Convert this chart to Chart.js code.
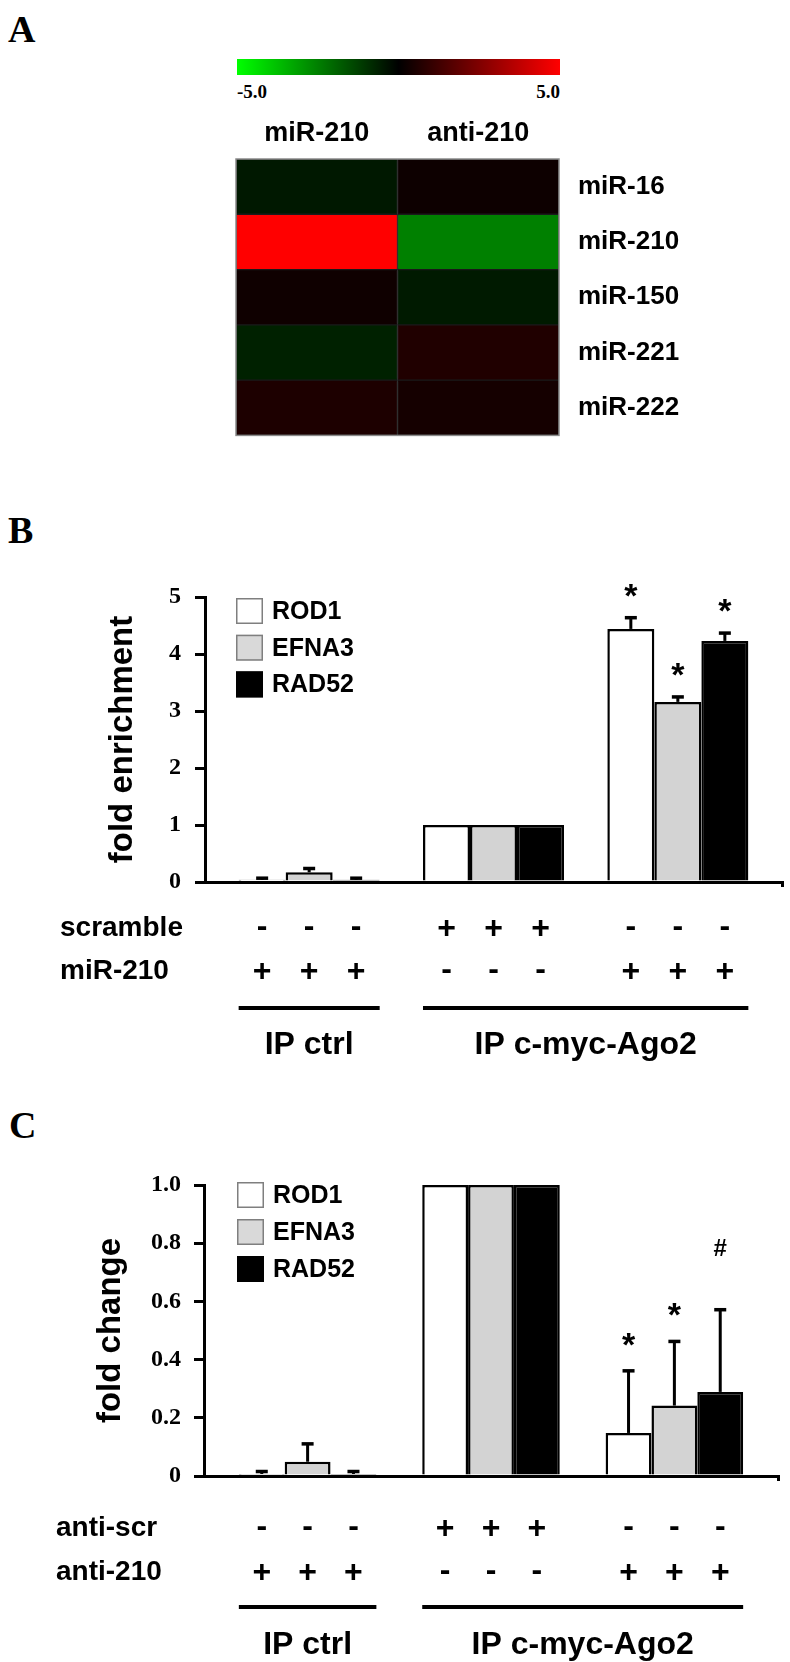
<!DOCTYPE html>
<html><head><meta charset="utf-8">
<script src="https://cdn.jsdelivr.net/npm/chart.js@4.4.0/dist/chart.umd.min.js"></script>
<style>
html,body{margin:0;padding:0;background:#fff;}
body{width:790px;height:1662px;position:relative;overflow:hidden;}
canvas{position:absolute;left:0;}
.lbl{position:absolute;font-family:"Liberation Serif","Times New Roman",serif;font-weight:bold;color:#000;line-height:1;white-space:nowrap;}
</style></head><body>
<div class="lbl" style="left:8px;top:10px;font-size:38px;">A</div>
<div class="lbl" style="left:8px;top:511px;font-size:38px;">B</div>
<div class="lbl" style="left:9px;top:1106px;font-size:38px;">C</div>
<div style="position:absolute;left:237px;top:59px;width:323px;height:16px;background:linear-gradient(to right,#00ff00,#000000 50%,#ff0000);"></div>
<div class="lbl" style="left:237px;top:82px;font-size:19px;">-5.0</div>
<div class="lbl" style="right:230px;top:82px;font-size:19px;">5.0</div>
<canvas id="cA" width="790" height="470" style="top:0"></canvas>
<canvas id="cB" width="790" height="600" style="top:480px"></canvas>
<canvas id="cC" width="790" height="582" style="top:1080px"></canvas>
<script>
// ---------- data ----------
const heatCols = ['miR-210', 'anti-210'];
const heatRows = ['miR-16', 'miR-210', 'miR-150', 'miR-221', 'miR-222'];
const heatMiR210 = [-0.47, 5.0, 0.3, -0.65, 0.57];
const heatAnti210 = [0.25, -2.5, -0.5, 0.62, 0.42];

const genes = ['ROD1', 'EFNA3', 'RAD52'];
const groupNames = ['IP ctrl', 'IP c-myc-Ago2'];

// panel B: fold enrichment
const rod1B = [0.04, 1.0, 4.44];
const efna3B = [0.17, 1.0, 3.16];
const rad52B = [0.04, 1.0, 4.23];
const rod1BErr = [0.04, 0, 0.21];
const efna3BErr = [0.08, 0, 0.10];
const rad52BErr = [0.04, 0, 0.15];
const bSigText = ['*', '*', '*'];
const bSigY = [5.16, 3.77, 4.89];
const bTicks = ['0', '1', '2', '3', '4', '5'];
const scrambleSigns = ['-', '+', '-'];
const mir210Signs = ['+', '-', '+'];

// panel C: fold change
const rod1C = [0.007, 1.0, 0.148];
const efna3C = [0.049, 1.0, 0.242];
const rad52C = [0.007, 1.0, 0.289];
const rod1CErr = [0.011, 0, 0.216];
const efna3CErr = [0.064, 0, 0.223];
const rad52CErr = [0.011, 0, 0.285];
const cSigText = ['*', '*', '#'];
const cSigY = [0.479, 0.581, 0.785];
const cTicks = ['0', '0.2', '0.4', '0.6', '0.8', '1.0'];
const antiScrSigns = ['-', '+', '-'];
const anti210Signs = ['+', '-', '+'];

// ---------- styles ----------
const SANS = '"Liberation Sans", Arial, sans-serif';
const SERIF = '"Liberation Serif", "Times New Roman", serif';
Chart.defaults.font.family = SANS;
Chart.defaults.color = '#000';
const barFills = ['#ffffff', '#d3d3d3', '#000000'];
const legFills = ['#ffffff', '#d9d9d9', '#000000'];
const legBorders = ['#7f7f7f', '#7f7f7f', '#000000'];

function heatColor(v) {
  const t = Math.min(1, Math.abs(v) / 5);
  const c = Math.round(t * 255);
  return v >= 0 ? `rgb(${c},0,0)` : `rgb(0,${c},0)`;
}

const outline = {
  id: 'outline',
  afterDatasetsDraw(chart) {
    const {ctx, chartArea: a} = chart;
    ctx.save();
    ctx.strokeStyle = '#8a8a8a';
    ctx.lineWidth = 1.5;
    ctx.strokeRect(a.left, a.top, a.right - a.left, a.bottom - a.top);
    ctx.restore();
  }
};

new Chart(document.getElementById('cA'), {
  type: 'bar',
  data: {
    labels: heatRows,
    datasets: [heatMiR210, heatAnti210].map((vals, j) => ({
      label: heatCols[j],
      data: heatRows.map(r => ({y: r, x: [j, j + 1]})),
      backgroundColor: vals.map(heatColor),
      borderColor: '#1a1a1a', borderWidth: 1, borderSkipped: false,
      grouped: false, categoryPercentage: 1, barPercentage: 1
    }))
  },
  options: {
    indexAxis: 'y', responsive: false, animation: false, devicePixelRatio: 1,
    layout: {padding: {left: 236, top: 99, right: 0, bottom: 17}},
    plugins: {legend: {display: false}, tooltip: {enabled: false}},
    scales: {
      x: {type: 'linear', min: 0, max: 2, display: false, offset: false},
      xTop: {type: 'category', labels: heatCols, position: 'top', offset: true,
        grid: {display: false, drawTicks: false}, border: {display: false},
        ticks: {padding: 9, font: {size: 27, weight: 'bold'}, color: '#000'},
        afterFit(s) { s.height = 60; }},
      y: {type: 'category', position: 'right', offset: true,
        grid: {display: false, drawTicks: false}, border: {display: false},
        ticks: {padding: 19, font: {size: 26, weight: 'bold'}, color: '#000'},
        afterFit(s) { s.width = 231; }}
    }
  },
  plugins: [outline]
});

const extras = {
  id: 'panelExtras',
  afterDatasetsDraw(chart, args, o) {
    const {ctx, chartArea: a} = chart;
    const ys = chart.scales.y;
    const metas = chart.data.datasets.map((d, i) => chart.getDatasetMeta(i));
    ctx.save();
    // error bars
    metas.forEach((m, d) => {
      m.data.forEach((bar, k) => {
        const e = o.errors[d][k];
        if (!e) return;
        const v = chart.data.datasets[d].data[k].y;
        const yt = ys.getPixelForValue(v + e);
        ctx.fillStyle = '#000';
        ctx.fillRect(bar.x - 1.5, yt, 3, bar.y - yt);
        ctx.fillRect(bar.x - 6, yt - 1, 12, 3.5);
      });
    });
    // significance marks
    metas.forEach((m, d) => {
      const bar = m.data[o.sigGroup];
      const t = o.sigText[d];
      const yc = ys.getPixelForValue(o.sigY[d]);
      const size = t === '#' ? 24 : 34;
      const off = t === '#' ? 0.36 : 0.56;
      ctx.font = `bold ${size}px ${SANS}`;
      ctx.textAlign = 'center';
      ctx.textBaseline = 'alphabetic';
      ctx.fillStyle = '#000';
      ctx.fillText(t, bar.x, yc + off * size);
    });
    // legend
    chart.data.datasets.forEach((ds, i) => {
      const x = a.left + o.legX, y = a.top + o.legY + i * o.legPitch;
      ctx.fillStyle = legFills[i];
      ctx.fillRect(x, y, 27, 26);
      ctx.strokeStyle = legBorders[i];
      ctx.lineWidth = 1.5;
      ctx.strokeRect(x + 0.75, y + 0.75, 25.5, 24.5);
      ctx.fillStyle = '#000';
      ctx.font = `bold 25px ${SANS}`;
      ctx.textAlign = 'left';
      ctx.textBaseline = 'middle';
      ctx.fillText(ds.label, x + 36, y + 14);
    });
    // condition rows under the axis
    const b = a.bottom;
    o.rows.forEach(r => {
      ctx.fillStyle = '#000';
      ctx.font = `bold 28px ${SANS}`;
      ctx.textAlign = 'left';
      ctx.textBaseline = 'alphabetic';
      ctx.fillText(r.label, o.labelX, b + r.dy + 9);
      ctx.textAlign = 'center';
      ctx.font = `bold 32px ${SANS}`;
      metas.forEach(m => m.data.forEach((bar, k) => {
        const s = r.signs[k];
        ctx.fillText(s, bar.x, b + r.dy + (s === '+' ? 0.34 : 0.27) * 32);
      }));
    });
    // group lines and names
    o.groups.forEach(g => {
      const first = metas[0].data[g.from], last = metas[metas.length - 1].data[g.to];
      const x1 = first.x - first.width / 2, x2 = last.x + last.width / 2;
      ctx.fillRect(x1, b + o.lineDy - 2, x2 - x1, 4);
      ctx.font = `bold 32px ${SANS}`;
      ctx.textAlign = 'center';
      ctx.textBaseline = 'alphabetic';
      ctx.fillText(g.text, (x1 + x2) / 2, b + o.nameDy);
    });
    ctx.restore();
  }
};

function barPanel(id, p) {
  return new Chart(document.getElementById(id), {
    type: 'bar',
    data: {
      datasets: genes.map((g, d) => ({
        label: g,
        data: p.values[d].map((v, k) => ({x: k + 1, y: v})),
        backgroundColor: barFills[d], borderColor: '#000', borderWidth: 2.5,
        categoryPercentage: p.catPct, barPercentage: 1
      }))
    },
    options: {
      responsive: false, animation: false, devicePixelRatio: 1,
      layout: {padding: {left: 0, top: p.top, right: p.right, bottom: p.bottom}},
      plugins: {legend: {display: false}, tooltip: {enabled: false}, panelExtras: p.extras},
      scales: {
        x: {type: 'linear', min: 0.435, max: 3.565, offset: false,
          ticks: {display: false},
          grid: {offset: false, drawOnChartArea: false, tickLength: 5, lineWidth: 3, color: '#000'},
          border: {width: 3, color: '#000', z: 1},
          afterBuildTicks(s) { s.ticks = [{value: s.max}]; },
          afterFit(s) { s.height = 10; }},
        y: {type: 'linear', min: 0, max: p.max,
          afterBuildTicks(s) { s.ticks = p.ticks.map(t => ({value: parseFloat(t)})); },
          ticks: {padding: p.tickPad, font: {family: SERIF, size: 24, weight: 'bold'}, color: '#000',
            callback: (v, i) => p.ticks[i]},
          grid: {drawOnChartArea: false, tickLength: 10, lineWidth: 3, color: '#000'},
          border: {width: 3, color: '#000', z: 1},
          title: {display: true, text: p.title, color: '#000',
            font: {family: SANS, size: 33, weight: 'bold'}, padding: {top: p.titlePad, bottom: 0}},
          afterFit(s) { s.width = p.axisX; }}
      }
    },
    plugins: [extras]
  });
}

barPanel('cB', {
  values: [rod1B, efna3B, rad52B], max: 5, ticks: bTicks, title: 'fold enrichment',
  catPct: 0.765, top: 117, right: 8, bottom: 188, tickPad: 14, titlePad: 103, axisX: 205,
  extras: {
    errors: [rod1BErr, efna3BErr, rad52BErr], sigGroup: 2, sigText: bSigText, sigY: bSigY,
    legX: 31, legY: 1, legPitch: 36.7,
    rows: [{label: 'scramble', signs: scrambleSigns, dy: 45}, {label: 'miR-210', signs: mir210Signs, dy: 88}],
    labelX: 60, lineDy: 126, nameDy: 172,
    groups: [{text: groupNames[0], from: 0, to: 0}, {text: groupNames[1], from: 1, to: 2}]
  }
});

barPanel('cC', {
  values: [rod1C, efna3C, rad52C], max: 1, ticks: cTicks, title: 'fold change',
  catPct: 0.75, top: 105, right: 12, bottom: 176, tickPad: 13, titlePad: 91, axisX: 204,
  extras: {
    errors: [rod1CErr, efna3CErr, rad52CErr], sigGroup: 2, sigText: cSigText, sigY: cSigY,
    legX: 33, legY: -3, legPitch: 37,
    rows: [{label: 'anti-scr', signs: antiScrSigns, dy: 51}, {label: 'anti-210', signs: anti210Signs, dy: 95}],
    labelX: 56, lineDy: 131, nameDy: 178,
    groups: [{text: groupNames[0], from: 0, to: 0}, {text: groupNames[1], from: 1, to: 2}]
  }
});
</script>
</body></html>
